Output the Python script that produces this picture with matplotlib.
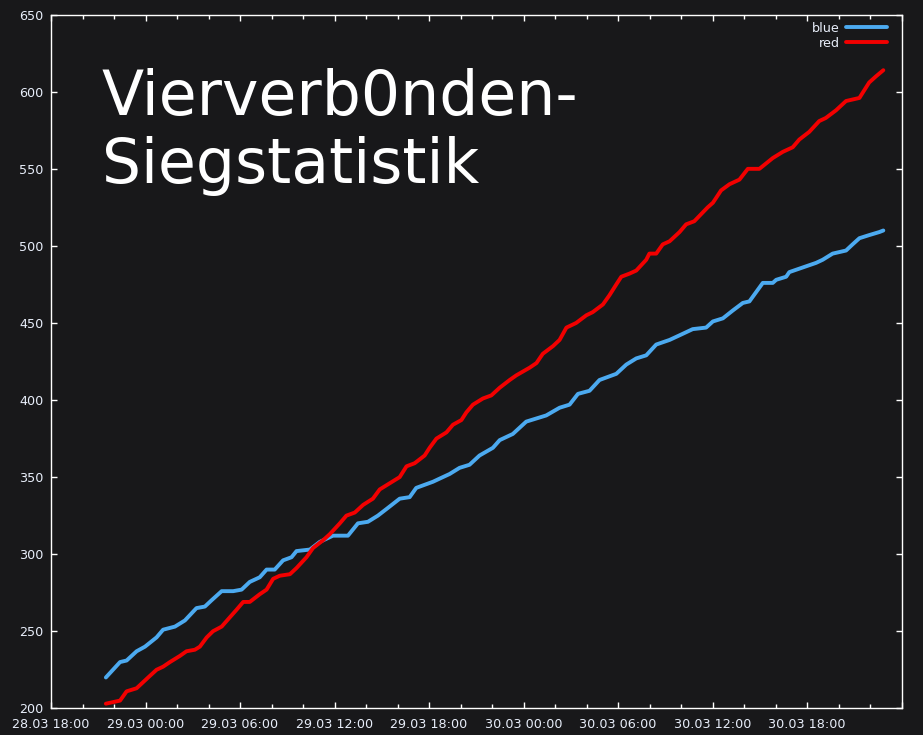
import matplotlib
matplotlib.use("Agg")
import matplotlib.pyplot as plt
import matplotlib.dates as mdates
import matplotlib.ticker as mticker
import pandas as pd

YEAR = "2015"
X_START = "28.03 18:00"
X_END = "31.03 00:00"
Y_MIN, Y_MAX = 200, 650
y_ticks = [200, 250, 300, 350, 400, 450, 500, 550, 600, 650]
title_text = "Vierverb0nden-\nSiegstatistik"
legend_labels = ["blue", "red"]

blue_times = ["28.03 21:29", "28.03 22:23", "28.03 22:48", "28.03 23:26", "28.03 23:58",
              "29.03 00:42", "29.03 01:07", "29.03 01:52", "29.03 02:30", "29.03 03:14",
              "29.03 03:46", "29.03 04:11", "29.03 04:50", "29.03 05:34", "29.03 06:06",
              "29.03 06:37", "29.03 07:15", "29.03 07:41", "29.03 08:12", "29.03 08:44",
              "29.03 09:16", "29.03 09:35", "29.03 10:26", "29.03 11:04", "29.03 11:54",
              "29.03 12:51", "29.03 13:29", "29.03 14:07", "29.03 14:45", "29.03 15:23",
              "29.03 16:08", "29.03 16:46", "29.03 17:11", "29.03 18:15", "29.03 18:40",
              "29.03 19:18", "29.03 19:56", "29.03 20:34", "29.03 21:12", "29.03 22:03",
              "29.03 22:29", "29.03 23:19", "30.03 00:10", "30.03 01:26", "30.03 02:17",
              "30.03 02:55", "30.03 03:27", "30.03 04:11", "30.03 04:49", "30.03 05:53",
              "30.03 06:31", "30.03 07:09", "30.03 07:47", "30.03 08:25", "30.03 09:16",
              "30.03 09:54", "30.03 10:44", "30.03 11:35", "30.03 12:01", "30.03 12:39",
              "30.03 13:16", "30.03 13:55", "30.03 14:20", "30.03 15:11", "30.03 15:49",
              "30.03 16:02", "30.03 16:40", "30.03 16:52", "30.03 17:43", "30.03 18:34",
              "30.03 18:59", "30.03 19:37", "30.03 20:28", "30.03 20:53", "30.03 21:19",
              "30.03 21:56", "30.03 22:35", "30.03 22:50"]
blue_values = [220, 230, 231, 237, 240,
               246, 251, 253, 257, 265,
               266, 270, 276, 276, 277,
               282, 285, 290, 290, 296,
               298, 302, 303, 308, 312,
               312, 320, 321, 325, 330,
               336, 337, 343, 347, 349,
               352, 356, 358, 364, 369,
               374, 378, 386, 390, 395,
               397, 404, 406, 413, 417,
               423, 427, 429, 436, 439,
               442, 446, 447, 451, 453,
               458, 463, 464, 476, 476,
               478, 480, 483, 486, 489,
               491, 495, 497, 501, 505,
               507, 509, 510]

red_times = ["28.03 21:29", "28.03 22:23", "28.03 22:48", "28.03 23:26", "29.03 00:10",
             "29.03 00:42", "29.03 01:07", "29.03 01:33", "29.03 02:11", "29.03 02:36",
             "29.03 03:08", "29.03 03:27", "29.03 03:53", "29.03 04:17", "29.03 04:50",
             "29.03 05:21", "29.03 05:47", "29.03 06:12", "29.03 06:37", "29.03 07:15",
             "29.03 07:41", "29.03 08:06", "29.03 08:31", "29.03 09:10", "29.03 09:35",
             "29.03 10:13", "29.03 10:38", "29.03 11:16", "29.03 11:42", "29.03 12:20",
             "29.03 12:45", "29.03 13:17", "29.03 13:49", "29.03 14:26", "29.03 14:52",
             "29.03 15:30", "29.03 16:08", "29.03 16:34", "29.03 17:05", "29.03 17:43",
             "29.03 18:02", "29.03 18:28", "29.03 19:06", "29.03 19:31", "29.03 20:03",
             "29.03 20:22", "29.03 20:47", "29.03 21:25", "29.03 21:57", "29.03 22:29",
             "29.03 23:07", "29.03 23:32", "30.03 00:23", "30.03 00:49", "30.03 01:13",
             "30.03 01:52", "30.03 02:17", "30.03 02:43", "30.03 03:20", "30.03 03:59",
             "30.03 04:23", "30.03 05:02", "30.03 05:27", "30.03 05:53", "30.03 06:12",
             "30.03 06:43", "30.03 07:09", "30.03 07:47", "30.03 07:59", "30.03 08:25",
             "30.03 08:50", "30.03 09:16", "30.03 09:54", "30.03 10:19", "30.03 10:50",
             "30.03 11:41", "30.03 12:01", "30.03 12:32", "30.03 13:04", "30.03 13:42",
             "30.03 14:14", "30.03 14:58", "30.03 15:49", "30.03 16:27", "30.03 17:05",
             "30.03 17:30", "30.03 18:08", "30.03 18:46", "30.03 19:11", "30.03 19:50",
             "30.03 20:28", "30.03 21:19", "30.03 21:56", "30.03 22:22", "30.03 22:50"]
red_values = [203, 205, 211, 213, 220,
              225, 227, 230, 234, 237,
              238, 240, 246, 250, 253,
              259, 264, 269, 269, 274,
              277, 284, 286, 287, 291,
              298, 304, 309, 313, 320,
              325, 327, 332, 336, 342,
              346, 350, 357, 359, 364,
              369, 375, 379, 384, 387,
              392, 397, 401, 403, 408,
              413, 416, 421, 424, 430,
              435, 439, 447, 450, 455,
              457, 462, 468, 475, 480,
              482, 484, 491, 495, 495,
              501, 503, 509, 514, 516,
              525, 528, 536, 540, 543,
              550, 550, 557, 561, 564,
              569, 574, 581, 583, 588,
              594, 596, 606, 610, 614]


def to_dt(items):
    return pd.to_datetime([YEAR + "." + s for s in items], format="%Y.%d.%m %H:%M")


BG = "#18181a"
BLUE = "#4caaf0"
RED = "#f20000"
FG = "#ffffff"
LABEL = "#e8eefa"

fig = plt.figure(figsize=(9.23, 7.35), dpi=100, facecolor=BG)
ax_w_px = 901.7 - 51
ax_h_px = 708.3 - 14.7
ax = fig.add_axes([51 / 923, 1 - 708.3 / 735, ax_w_px / 923, ax_h_px / 735])
ax.set_facecolor(BG)

ax.plot(to_dt(blue_times), blue_values, color=BLUE, lw=2.8, solid_joinstyle="round",
        solid_capstyle="round", label=legend_labels[0])
ax.plot(to_dt(red_times), red_values, color=RED, lw=2.8, solid_joinstyle="round",
        solid_capstyle="round", label=legend_labels[1])

x0 = to_dt([X_START])[0]
x1 = to_dt([X_END])[0]
ax.set_xlim(x0, x1)
ax.set_ylim(Y_MIN, Y_MAX)
ax.set_yticks(y_ticks)

ax.xaxis.set_major_locator(mdates.HourLocator(byhour=[0, 6, 12, 18]))
ax.xaxis.set_minor_locator(mdates.HourLocator(byhour=range(0, 24, 2)))
x1_num = mdates.date2num(x1)
base_fmt = mdates.DateFormatter("%d.%m %H:%M")


def fmt(v, pos=None):
    if abs(v - x1_num) < 1e-6:
        return ""
    return base_fmt(v, pos)


ax.xaxis.set_major_formatter(mticker.FuncFormatter(fmt))

for s in ax.spines.values():
    s.set_color(FG)
    s.set_linewidth(1.0)

ax.tick_params(axis="both", which="both", direction="in", colors=FG, labelsize=9.2,
               top=True, right=True, width=1.0)
ax.tick_params(axis="both", which="major", length=6 * 0.72)
ax.tick_params(axis="x", which="minor", length=4 * 0.72)
ax.tick_params(axis="x", which="major", pad=7)
ax.tick_params(axis="y", which="major", pad=5.5)
for lab in ax.get_xticklabels() + ax.get_yticklabels():
    lab.set_color(LABEL)

fig.text(102 / 923, 1 - 183 / 735, title_text, color=FG, fontsize=44.4,
         ha="left", va="baseline", linespacing=1.16, family="DejaVu Sans")

leg = ax.legend(loc="upper right", frameon=False, markerfirst=False, fontsize=9.2,
                handlelength=3.2, handletextpad=0.5, labelspacing=0.18,
                borderaxespad=0.0, borderpad=0.4,
                bbox_to_anchor=(1 - 9.8 / ax_w_px, 1 - 1.8 / ax_h_px))
for t in leg.get_texts():
    t.set_color(LABEL)

fig.savefig("out.png", dpi=100, facecolor=BG)
